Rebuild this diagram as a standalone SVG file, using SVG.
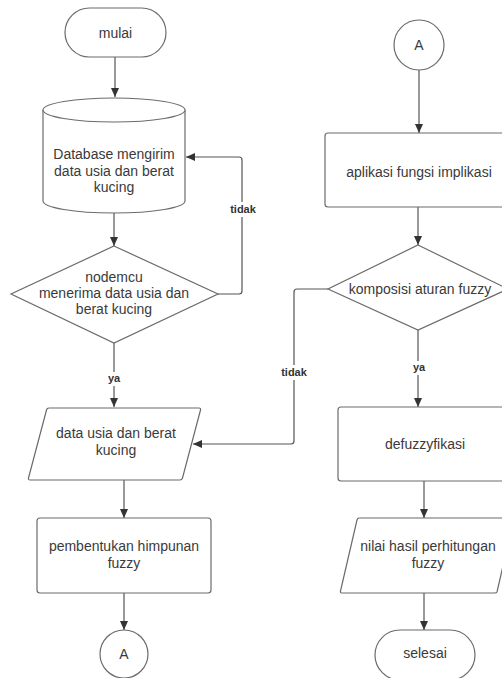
<svg xmlns="http://www.w3.org/2000/svg" width="502" height="678" viewBox="0 0 502 678">
<defs>
<marker id="arr" viewBox="0 0 10 10" refX="10" refY="5" markerWidth="9" markerHeight="8" markerUnits="userSpaceOnUse" orient="auto" preserveAspectRatio="none">
<path d="M0,0 L10,5 L0,10 Z" fill="#333"/>
</marker>
<style>
.s{fill:#fff;stroke:#6b6b6b;stroke-width:1.2}
.t{font-family:"Liberation Sans",Arial,sans-serif;font-size:14px;fill:#3a3a3a;text-anchor:middle}
.l{font-family:"Liberation Sans",Arial,sans-serif;font-size:11px;font-weight:bold;fill:#333;text-anchor:middle}
.c{fill:none;stroke:#555;stroke-width:1.2}
.a{marker-end:url(#arr)}
.bg{fill:#fff}
</style>
</defs>
<rect width="502" height="678" fill="#fff"/>
<g id="connectors">
<path class="c a" d="M115,57 V97"/>
<path class="c a" d="M114,213 V246"/>
<path class="c a" d="M218,294 H239 Q242,294 242,291 V160 Q242,157 239,157 H186"/>
<path class="c a" d="M114,343 V407"/>
<path class="c a" d="M124,480 V518"/>
<path class="c a" d="M124,593 V630"/>
<path class="c a" d="M419,70 V133"/>
<path class="c a" d="M418,207 V245"/>
<path class="c a" d="M328,289 H297 Q294,289 294,292 V441 Q294,444 291,444 H193"/>
<path class="c a" d="M418,330 V407"/>
<path class="c a" d="M424,481 V518"/>
<path class="c a" d="M424,593 V630"/>
<rect class="bg" x="227" y="202" width="32" height="15"/>
<text class="l" x="243" y="213">tidak</text>
<rect class="bg" x="104" y="372" width="20" height="14"/>
<text class="l" x="114" y="382">ya</text>
<rect class="bg" x="278" y="365" width="32" height="15"/>
<text class="l" x="294" y="376">tidak</text>
<rect class="bg" x="409" y="361" width="20" height="14"/>
<text class="l" x="419" y="371">ya</text>
</g>
<g id="mulai">
<rect class="s" x="65" y="8" width="101" height="49" rx="24.5"/>
<text class="t" x="115.5" y="38">mulai</text>
</g>
<g id="database">
<path class="s" d="M43,110 A71,12 0 0 1 185,110 V201 A71,12 0 0 1 43,201 Z"/>
<path class="s" fill="none" d="M43,110 A71,12 0 0 0 185,110"/>
<text class="t" x="114" y="159">Database mengirim</text>
<text class="t" x="114" y="176">data usia dan berat</text>
<text class="t" x="114" y="192">kucing</text>
</g>
<g id="nodemcu">
<path class="s" d="M114,246 L218,294 L114,343 L11,294 Z"/>
<text class="t" x="114" y="282">nodemcu</text>
<text class="t" x="114" y="298">menerima data usia dan</text>
<text class="t" x="114" y="314">berat kucing</text>
</g>
<g id="data-input">
<path class="s" d="M49,408 L199,408 Q201,408 200.5,410 L182.5,478 Q182,480 180,480 L30,480 Q28,480 28.5,478 L46.5,410 Q47,408 49,408 Z"/>
<text class="t" x="116" y="438">data usia dan berat</text>
<text class="t" x="116" y="455">kucing</text>
</g>
<g id="pembentukan">
<rect class="s" x="37" y="518" width="174" height="75" rx="3"/>
<text class="t" x="124" y="551">pembentukan himpunan</text>
<text class="t" x="124" y="568">fuzzy</text>
</g>
<g id="connector-a-bottom">
<circle class="s" cx="124" cy="654" r="24"/>
<text class="t" x="124" y="659">A</text>
</g>
<g id="connector-a-top">
<circle class="s" cx="419" cy="45" r="25"/>
<text class="t" x="419" y="50">A</text>
</g>
<g id="aplikasi">
<rect class="s" x="325" y="133" width="188" height="74" rx="3"/>
<text class="t" x="419" y="177">aplikasi fungsi implikasi</text>
</g>
<g id="komposisi">
<path class="s" d="M418,245 L508,289 L418,330 L328,289 Z"/>
<text class="t" x="420" y="294">komposisi aturan fuzzy</text>
</g>
<g id="defuzzyfikasi">
<rect class="s" x="338" y="407" width="174" height="74" rx="3"/>
<text class="t" x="425" y="449">defuzzyfikasi</text>
</g>
<g id="nilai">
<path class="s" d="M359,518 L514,518 L497,592 Q496.5,593 494.5,593 L342,593 Q340,593 340.5,591 L357,520 Q357.5,518 359,518 Z"/>
<text class="t" x="428" y="551">nilai hasil perhitungan</text>
<text class="t" x="428" y="568">fuzzy</text>
</g>
<g id="selesai">
<rect class="s" x="375" y="630" width="100" height="50" rx="25"/>
<text class="t" x="425" y="658">selesai</text>
</g>
</svg>
